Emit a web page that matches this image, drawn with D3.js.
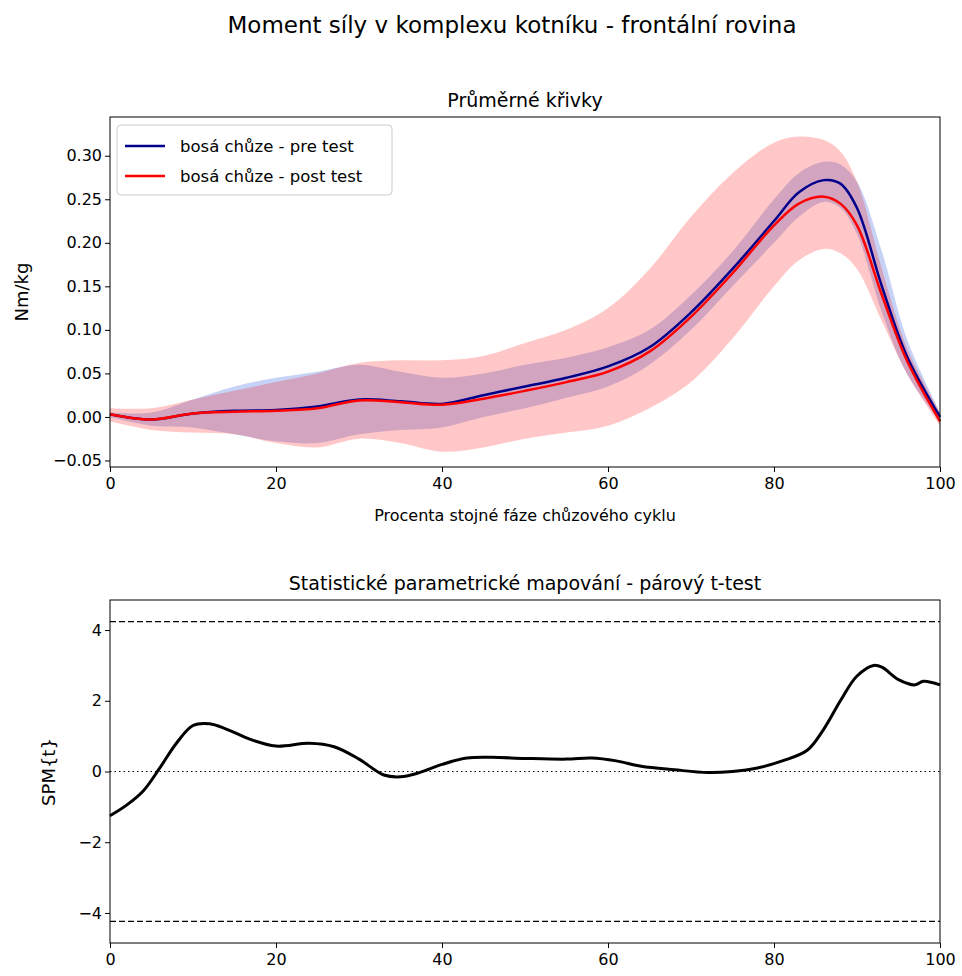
<!DOCTYPE html><html><head><meta charset="utf-8"><script src="https://cdn.jsdelivr.net/npm/d3@7"></script>
<style>body{margin:0;background:#fff;font-family:"DejaVu Sans",sans-serif}</style></head><body><svg id="c" width="962" height="976"></svg>
<script>
const xs=[0,5,10,15,20,25,30,35,40,45,50,55,60,65,70,75,80,83,86,88,90,93,96,100];
const preMean=[0.003,-0.003,0.004,0.007,0.008,0.012,0.02,0.018,0.015,0.025,0.035,0.045,0.058,0.08,0.12,0.17,0.225,0.258,0.272,0.268,0.24,0.15,0.07,0.0];
const postMean=[0.003,-0.003,0.004,0.006,0.007,0.01,0.019,0.017,0.014,0.021,0.03,0.04,0.052,0.075,0.115,0.165,0.22,0.245,0.253,0.245,0.22,0.14,0.065,-0.005];
const preUp=[0.005,0.005,0.02,0.035,0.045,0.052,0.06,0.052,0.045,0.05,0.06,0.068,0.08,0.1,0.14,0.19,0.25,0.28,0.293,0.29,0.27,0.19,0.09,0.005];
const preLo=[0,-0.01,-0.012,-0.02,-0.028,-0.03,-0.02,-0.015,-0.012,0.0,0.01,0.022,0.035,0.06,0.1,0.15,0.2,0.23,0.247,0.24,0.21,0.12,0.05,-0.005];
const postUp=[0.01,0.01,0.02,0.03,0.04,0.05,0.062,0.065,0.065,0.07,0.085,0.1,0.125,0.17,0.23,0.28,0.315,0.322,0.318,0.305,0.27,0.17,0.08,0.005];
const postLo=[-0.005,-0.015,-0.018,-0.02,-0.03,-0.035,-0.025,-0.03,-0.04,-0.035,-0.025,-0.018,-0.01,0.01,0.04,0.09,0.15,0.18,0.193,0.188,0.17,0.11,0.05,-0.01];
const spmX=[0,2,4,6,8,10,12,14,17,20,24,27,30,33,35,37,40,43,46,50,55,58,61,64,68,72,75,78,81,84,86,88,90,92,93,95,97,98,100];
const spmT=[-1.25,-0.95,-0.55,0.1,0.8,1.3,1.35,1.2,0.9,0.72,0.8,0.7,0.35,-0.1,-0.15,-0.05,0.2,0.38,0.4,0.37,0.35,0.38,0.3,0.15,0.05,-0.03,0.0,0.1,0.3,0.6,1.2,2.0,2.7,3.0,2.95,2.6,2.45,2.55,2.45];
const tCrit=4.24;
const yTicks1=[-0.05,0,0.05,0.1,0.15,0.2,0.25,0.3];
const xTicks=[0,20,40,60,80,100];
const yTicks2=[-4,-2,0,2,4];

const svg=d3.select("#c");
const F="DejaVu Sans";
const C=d3.curveCatmullRom.alpha(0.5);
svg.append("text").attr("x",512).attr("y",33).attr("text-anchor","middle").attr("font-size",23).attr("font-family",F).text("Moment síly v komplexu kotníku - frontální rovina");

const L=110,R=940;
const x=d3.scaleLinear().domain([0,100]).range([L,R]);
const T1=117,B1=467;
const y1=d3.scaleLinear().domain([-0.0575,0.3445]).range([B1,T1]);
const g1=svg.append("g");
const area=(up,lo)=>d3.area().x((d,i)=>x(xs[i])).y0((d,i)=>y1(lo[i])).y1((d,i)=>y1(up[i])).curve(C)(xs);
const line=(m)=>d3.line().x((d,i)=>x(xs[i])).y((d,i)=>y1(m[i])).curve(C)(xs);
g1.append("path").attr("d",area(preUp,preLo)).attr("fill","rgba(65,105,225,0.3)");
g1.append("path").attr("d",area(postUp,postLo)).attr("fill","rgba(255,0,0,0.22)");
g1.append("path").attr("d",line(preMean)).attr("fill","none").attr("stroke","#00008b").attr("stroke-width",2.5);
g1.append("path").attr("d",line(postMean)).attr("fill","none").attr("stroke","#ff0000").attr("stroke-width",2.5);
g1.append("rect").attr("x",L).attr("y",T1).attr("width",R-L).attr("height",B1-T1).attr("fill","none").attr("stroke","#000");
g1.append("g").attr("transform",`translate(0,${B1})`).call(d3.axisBottom(x).tickValues(xTicks).tickSize(5).tickSizeOuter(0)).call(a=>{a.select(".domain").remove();a.selectAll("text").attr("font-size",16).attr("font-family",F).attr("dy","0.9em")});
g1.append("g").attr("transform",`translate(${L},0)`).call(d3.axisLeft(y1).tickValues(yTicks1).tickFormat(d3.format(".2f")).tickSize(5).tickSizeOuter(0)).call(a=>{a.select(".domain").remove();a.selectAll("text").attr("font-size",16).attr("font-family",F)});
svg.append("text").attr("x",525).attr("y",107).attr("text-anchor","middle").attr("font-size",19).attr("font-family",F).text("Průměrné křivky");
svg.append("text").attr("x",525).attr("y",521).attr("text-anchor","middle").attr("font-size",16).attr("font-family",F).text("Procenta stojné fáze chůzového cyklu");
svg.append("text").attr("transform","translate(28,292) rotate(-90)").attr("text-anchor","middle").attr("font-size",18).attr("font-family",F).text("Nm/kg");
const lg=svg.append("g");
lg.append("rect").attr("x",117).attr("y",125).attr("width",275).attr("height",70).attr("rx",4).attr("fill","#fff").attr("fill-opacity",0.8).attr("stroke","#ccc");
[["bosá chůze - pre test","#00008b"],["bosá chůze - post test","#ff0000"]].forEach((d,i)=>{
 const yy=146+i*30;
 lg.append("line").attr("x1",125).attr("x2",165).attr("y1",yy).attr("y2",yy).attr("stroke",d[1]).attr("stroke-width",2.5);
 lg.append("text").attr("x",180).attr("y",yy+6).attr("font-size",16.5).attr("font-family",F).text(d[0]);
});
const T2=600,B2=943;
const y2=d3.scaleLinear().domain([-4.85,4.85]).range([B2,T2]);
const g2=svg.append("g");
g2.append("line").attr("x1",L).attr("x2",R).attr("y1",y2(0)).attr("y2",y2(0)).attr("stroke","#000").attr("stroke-dasharray","1.5,3");
[tCrit,-tCrit].forEach(v=>g2.append("line").attr("x1",L).attr("x2",R).attr("y1",y2(v)).attr("y2",y2(v)).attr("stroke","#000").attr("stroke-width",1.3).attr("stroke-dasharray","6,3"));
g2.append("path").attr("d",d3.line().x((d,i)=>x(spmX[i])).y(d=>y2(d)).curve(C)(spmT)).attr("fill","none").attr("stroke","#000").attr("stroke-width",3);
g2.append("rect").attr("x",L).attr("y",T2).attr("width",R-L).attr("height",B2-T2).attr("fill","none").attr("stroke","#000");
g2.append("g").attr("transform",`translate(0,${B2})`).call(d3.axisBottom(x).tickValues(xTicks).tickSize(5).tickSizeOuter(0)).call(a=>{a.select(".domain").remove();a.selectAll("text").attr("font-size",16).attr("font-family",F).attr("dy","0.9em")});
g2.append("g").attr("transform",`translate(${L},0)`).call(d3.axisLeft(y2).tickValues(yTicks2).tickFormat(d=>d<0?"−"+(-d):d).tickSize(5).tickSizeOuter(0)).call(a=>{a.select(".domain").remove();a.selectAll("text").attr("font-size",16).attr("font-family",F)});
svg.append("text").attr("x",525).attr("y",590).attr("text-anchor","middle").attr("font-size",19).attr("font-family",F).text("Statistické parametrické mapování - párový t-test");
svg.append("text").attr("transform","translate(55,772) rotate(-90)").attr("text-anchor","middle").attr("font-size",18).attr("font-family",F).text("SPM{t}");
</script></body></html>
